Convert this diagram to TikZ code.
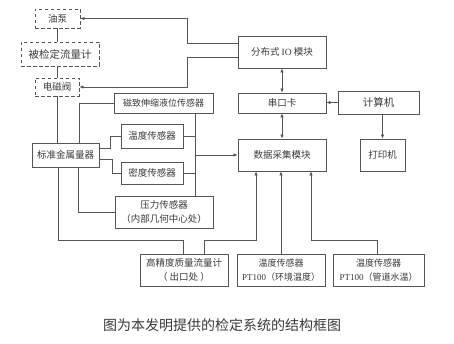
\documentclass[tikz,border=0pt]{standalone}
\usepackage{fontspec}
\setmainfont{Noto Sans CJK SC}
\newfontfamily\latinserif{Liberation Serif}
\usetikzlibrary{arrows.meta}
\definecolor{ln}{HTML}{555555}
\definecolor{tx}{HTML}{3a3a3a}
\tikzset{
  box/.style={draw=ln, line width=0.9pt, inner sep=0pt, align=center, text=tx,
    font=\fontsize{9.5}{13.5}\selectfont},
  dbox/.style={box, dashed, dash pattern=on 3.5pt off 2.5pt},
  conn/.style={draw=ln, line width=0.9pt},
  arr/.style={conn, -{Latex[length=4pt,width=3.6pt]}},
  darr/.style={conn, {Latex[length=4pt,width=3.6pt]}-{Latex[length=4pt,width=3.6pt]}},
}
\begin{document}
\begin{tikzpicture}[x=1pt,y=-1pt]
\useasboundingbox[fill=white] (0,0) rectangle (454,344);
% nodes
\node[dbox, minimum width=45pt, minimum height=19pt] (pump) at (57.5,18.5) {油泵};
\node[dbox, minimum width=78pt, minimum height=24pt, font=\fontsize{10.5}{13}\selectfont] (meter) at (60,54) {被检定流量计};
\node[dbox, minimum width=44pt, minimum height=18pt] (valve) at (57,87) {电磁阀};
\node[box, minimum width=88pt, minimum height=32pt] (io) at (282,52) {分布式 {\latinserif IO} 模块};
\node[box, minimum width=88pt, minimum height=20pt] (serial) at (282,103) {串口卡};
\node[box, minimum width=81pt, minimum height=23pt, font=\fontsize{10.5}{13}\selectfont] (pc) at (378.5,102.5) {计算机};
\node[box, minimum width=45pt, minimum height=32pt] (printer) at (382.5,155) {打印机};
\node[box, minimum width=88pt, minimum height=32pt] (daq) at (282,155) {数据采集模块};
\node[box, minimum width=67pt, minimum height=24pt] (std) at (65.5,155) {标准金属量器};
\node[box, minimum width=99pt, minimum height=20pt, font=\fontsize{9}{13}\selectfont] (mag) at (163.5,103) {磁致伸缩液位传感器};
\node[box, minimum width=62pt, minimum height=24pt] (temp) at (152,136) {温度传感器};
\node[box, minimum width=62pt, minimum height=22pt] (dens) at (152,173) {密度传感器};
\node[box, minimum width=98pt, minimum height=32pt] (press) at (164,212) {压力传感器\\（内部几何中心处）};
\node[box, minimum width=88pt, minimum height=32pt] (cor) at (184,270) {高精度质量流量计\\（ 出口处 ）};
\node[box, minimum width=88pt, minimum height=32pt, font=\fontsize{9}{13.5}\selectfont] (pta) at (281,270) {温度传感器\\{\latinserif PT100}（环境温度）};
\node[box, minimum width=91pt, minimum height=32pt, font=\fontsize{9}{13.5}\selectfont] (ptb) at (378.5,270) {温度传感器\\{\latinserif PT100}（管道水温）};
\node[text=tx, inner sep=0pt, font=\fontsize{14}{16}\selectfont] (cap) at (222,325) {图为本发明提供的检定系统的结构框图};
% left chain
\draw[conn] (pump.south) -- (pump.south |- meter.north);
\draw[conn] (meter.south -| valve.north) -- (valve.north);
\draw[conn] (valve.south) -- (valve.south |- std.north);
% IO outputs
\draw[arr] ([yshift=9pt]io.west) -- ++(-50,0) |- (pump.east);
\draw[arr] ([yshift=-5pt]io.west) -- ++(-50,0) |- (valve.east);
% right column
\draw[darr] (io.south) -- (serial.north);
\draw[darr] (serial.south) -- (daq.north);
\draw[arr] (pc.west) -- (serial.east |- pc.west);
\draw[arr] (pc.south -| printer.north) -- (printer.north);
% standard vessel to sensors
\draw[conn] ([xshift=13.5pt]std.north) |- (mag.west);
\draw[conn] ([yshift=7pt]std.east) -- ++(11,0) |- (temp.west);
\draw[conn] ([yshift=-4pt]std.east) -- ++(13,0) |- (dens.west);
\draw[conn] ([xshift=12.5pt]std.south) |- (press.west);
\draw[conn] ([xshift=-7.5pt]std.south) -- ++(0,73) -| ([xshift=-1pt]cor.north);
% sensor bus
\coordinate (bus) at ([xshift=31.5pt]mag.south);
\draw[conn] (bus) -- (bus |- press.north);
\draw[conn] (temp.east) -- (temp.east -| bus);
\draw[conn] (dens.east) -- (dens.east -| bus);
\draw[arr] (bus |- daq.west) -- (daq.west);
% bottom sensors to DAQ
\draw[arr] ([xshift=20pt]cor.north) -- ++(0,-13) -| ([xshift=-26pt]daq.south);
\draw[arr] (pta.north) -- (pta.north |- daq.south);
\draw[arr] ([xshift=-1.5pt]ptb.north) -- ++(0,-13) -| ([xshift=29pt]daq.south);
\end{tikzpicture}
\end{document}
